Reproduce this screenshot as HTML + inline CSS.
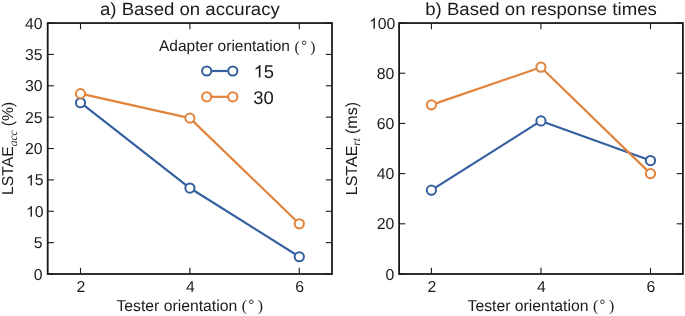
<!DOCTYPE html>
<html><head><meta charset="utf-8"><style>
html,body{margin:0;padding:0;background:#fff;width:685px;height:316px;overflow:hidden;font-family:"Liberation Sans",sans-serif;}
svg{display:block;will-change:transform} text{text-rendering:geometricPrecision}
</style></head><body><svg width="685" height="316" viewBox="0 0 685 316" font-family="Liberation Sans, sans-serif" style=""><g stroke="#1a1a1a" stroke-width="1.1"><line x1="80.50" y1="274.00" x2="80.50" y2="267.80"/><line x1="80.50" y1="23.05" x2="80.50" y2="29.25"/><line x1="189.90" y1="274.00" x2="189.90" y2="267.80"/><line x1="189.90" y1="23.05" x2="189.90" y2="29.25"/><line x1="299.30" y1="274.00" x2="299.30" y2="267.80"/><line x1="299.30" y1="23.05" x2="299.30" y2="29.25"/><line x1="47.70" y1="274.00" x2="53.90" y2="274.00"/><line x1="332.00" y1="274.00" x2="325.80" y2="274.00"/><line x1="47.70" y1="242.63" x2="53.90" y2="242.63"/><line x1="332.00" y1="242.63" x2="325.80" y2="242.63"/><line x1="47.70" y1="211.26" x2="53.90" y2="211.26"/><line x1="332.00" y1="211.26" x2="325.80" y2="211.26"/><line x1="47.70" y1="179.89" x2="53.90" y2="179.89"/><line x1="332.00" y1="179.89" x2="325.80" y2="179.89"/><line x1="47.70" y1="148.53" x2="53.90" y2="148.53"/><line x1="332.00" y1="148.53" x2="325.80" y2="148.53"/><line x1="47.70" y1="117.16" x2="53.90" y2="117.16"/><line x1="332.00" y1="117.16" x2="325.80" y2="117.16"/><line x1="47.70" y1="85.79" x2="53.90" y2="85.79"/><line x1="332.00" y1="85.79" x2="325.80" y2="85.79"/><line x1="47.70" y1="54.42" x2="53.90" y2="54.42"/><line x1="332.00" y1="54.42" x2="325.80" y2="54.42"/><line x1="47.70" y1="23.05" x2="53.90" y2="23.05"/><line x1="332.00" y1="23.05" x2="325.80" y2="23.05"/></g><rect x="47.70" y="23.05" width="284.30" height="250.95" fill="none" stroke="#1a1a1a" stroke-width="1.8"/><g font-size="15.8" fill="#1a1a1a"><text x="33.71" y="279.60" font-size="15.8" fill="#1a1a1a">0</text><text x="33.71" y="248.23" font-size="15.8" fill="#1a1a1a">5</text><text x="26.03" y="216.86" font-size="15.8" fill="#1a1a1a"> 0</text><path transform="translate(26.03,216.86) scale(0.00771,-0.00771)" d="M763,0 L583,0 L583,1098 Q518,1038 412,979 Q306,920 222,890 L222,1057 Q373,1125 486,1221 Q599,1318 646,1409 L763,1409 Z" fill="#1a1a1a"/><text x="26.03" y="185.49" font-size="15.8" fill="#1a1a1a"> 5</text><path transform="translate(26.03,185.49) scale(0.00771,-0.00771)" d="M763,0 L583,0 L583,1098 Q518,1038 412,979 Q306,920 222,890 L222,1057 Q373,1125 486,1221 Q599,1318 646,1409 L763,1409 Z" fill="#1a1a1a"/><text x="24.93" y="154.12" font-size="15.8" fill="#1a1a1a">20</text><text x="24.93" y="122.76" font-size="15.8" fill="#1a1a1a">25</text><text x="24.93" y="91.39" font-size="15.8" fill="#1a1a1a">30</text><text x="24.93" y="60.02" font-size="15.8" fill="#1a1a1a">35</text><text x="24.93" y="28.65" font-size="15.8" fill="#1a1a1a">40</text><text x="76.51" y="291.60" font-size="15.8" fill="#1a1a1a">2</text><text x="185.91" y="291.60" font-size="15.8" fill="#1a1a1a">4</text><text x="295.31" y="291.60" font-size="15.8" fill="#1a1a1a">6</text></g><text transform="translate(189.85,15.3) scale(1,0.95)" text-anchor="middle" font-size="18.6" fill="#1a1a1a">a) Based on accuracy</text><text x="116.45" y="310.7" font-size="15.75" fill="#1a1a1a">Tester orientation</text><text x="241.75" y="310.7" font-size="15.75" font-family="Liberation Serif" fill="#1a1a1a">(</text><text x="257.75" y="310.7" font-size="15.75" font-family="Liberation Serif" fill="#1a1a1a">)</text><circle cx="251.25" cy="301.80" r="1.8" fill="none" stroke="#1a1a1a" stroke-width="0.85"/><g stroke="#1a1a1a" stroke-width="1.1"><line x1="431.40" y1="274.00" x2="431.40" y2="267.80"/><line x1="431.40" y1="23.05" x2="431.40" y2="29.25"/><line x1="540.95" y1="274.00" x2="540.95" y2="267.80"/><line x1="540.95" y1="23.05" x2="540.95" y2="29.25"/><line x1="650.50" y1="274.00" x2="650.50" y2="267.80"/><line x1="650.50" y1="23.05" x2="650.50" y2="29.25"/><line x1="399.10" y1="274.00" x2="405.30" y2="274.00"/><line x1="682.90" y1="274.00" x2="676.70" y2="274.00"/><line x1="399.10" y1="223.81" x2="405.30" y2="223.81"/><line x1="682.90" y1="223.81" x2="676.70" y2="223.81"/><line x1="399.10" y1="173.62" x2="405.30" y2="173.62"/><line x1="682.90" y1="173.62" x2="676.70" y2="173.62"/><line x1="399.10" y1="123.43" x2="405.30" y2="123.43"/><line x1="682.90" y1="123.43" x2="676.70" y2="123.43"/><line x1="399.10" y1="73.24" x2="405.30" y2="73.24"/><line x1="682.90" y1="73.24" x2="676.70" y2="73.24"/><line x1="399.10" y1="23.05" x2="405.30" y2="23.05"/><line x1="682.90" y1="23.05" x2="676.70" y2="23.05"/></g><rect x="399.10" y="23.05" width="283.80" height="250.95" fill="none" stroke="#1a1a1a" stroke-width="1.8"/><g font-size="15.8" fill="#1a1a1a"><text x="385.51" y="279.60" font-size="15.8" fill="#1a1a1a">0</text><text x="376.73" y="229.41" font-size="15.8" fill="#1a1a1a">20</text><text x="376.73" y="179.22" font-size="15.8" fill="#1a1a1a">40</text><text x="376.73" y="129.03" font-size="15.8" fill="#1a1a1a">60</text><text x="376.73" y="78.84" font-size="15.8" fill="#1a1a1a">80</text><text x="369.04" y="28.65" font-size="15.8" fill="#1a1a1a"> 00</text><path transform="translate(369.04,28.65) scale(0.00771,-0.00771)" d="M763,0 L583,0 L583,1098 Q518,1038 412,979 Q306,920 222,890 L222,1057 Q373,1125 486,1221 Q599,1318 646,1409 L763,1409 Z" fill="#1a1a1a"/><text x="427.41" y="291.60" font-size="15.8" fill="#1a1a1a">2</text><text x="536.96" y="291.60" font-size="15.8" fill="#1a1a1a">4</text><text x="646.51" y="291.60" font-size="15.8" fill="#1a1a1a">6</text></g><text transform="translate(541.00,15.3) scale(1,0.95)" text-anchor="middle" font-size="18.6" fill="#1a1a1a">b) Based on response times</text><text x="467.60" y="310.7" font-size="15.75" fill="#1a1a1a">Tester orientation</text><text x="592.90" y="310.7" font-size="15.75" font-family="Liberation Serif" fill="#1a1a1a">(</text><text x="608.90" y="310.7" font-size="15.75" font-family="Liberation Serif" fill="#1a1a1a">)</text><circle cx="602.40" cy="301.80" r="1.8" fill="none" stroke="#1a1a1a" stroke-width="0.85"/><path d="M80.50,102.73 L189.90,188.05 L299.30,256.75" fill="none" stroke="#3560a0" stroke-width="2.2" stroke-linejoin="round"/><circle cx="80.50" cy="102.73" r="4.6" fill="#fff" stroke="#3560a0" stroke-width="2.0"/><circle cx="189.90" cy="188.05" r="4.6" fill="#fff" stroke="#3560a0" stroke-width="2.0"/><circle cx="299.30" cy="256.75" r="4.6" fill="#fff" stroke="#3560a0" stroke-width="2.0"/><path d="M80.50,93.63 L189.90,118.10 L299.30,223.81" fill="none" stroke="#e2833b" stroke-width="2.2" stroke-linejoin="round"/><circle cx="80.50" cy="93.63" r="4.6" fill="#fff" stroke="#e2833b" stroke-width="2.0"/><circle cx="189.90" cy="118.10" r="4.6" fill="#fff" stroke="#e2833b" stroke-width="2.0"/><circle cx="299.30" cy="223.81" r="4.6" fill="#fff" stroke="#e2833b" stroke-width="2.0"/><path d="M431.40,190.18 L540.95,120.92 L650.50,160.57" fill="none" stroke="#3560a0" stroke-width="2.2" stroke-linejoin="round"/><circle cx="431.40" cy="190.18" r="4.6" fill="#fff" stroke="#3560a0" stroke-width="2.0"/><circle cx="540.95" cy="120.92" r="4.6" fill="#fff" stroke="#3560a0" stroke-width="2.0"/><circle cx="650.50" cy="160.57" r="4.6" fill="#fff" stroke="#3560a0" stroke-width="2.0"/><path d="M431.40,104.86 L540.95,67.22 L650.50,173.62" fill="none" stroke="#e2833b" stroke-width="2.2" stroke-linejoin="round"/><circle cx="431.40" cy="104.86" r="4.6" fill="#fff" stroke="#e2833b" stroke-width="2.0"/><circle cx="540.95" cy="67.22" r="4.6" fill="#fff" stroke="#e2833b" stroke-width="2.0"/><circle cx="650.50" cy="173.62" r="4.6" fill="#fff" stroke="#e2833b" stroke-width="2.0"/><g transform="translate(12.8,195.0) rotate(-90)" fill="#1a1a1a"><text x="0" y="0" font-size="15.75">LSTAE<tspan font-family="Liberation Serif" font-style="italic" font-size="11.5" dy="4.0">acc</tspan><tspan dy="-4.0" dx="4.0">(%)</tspan></text></g><g transform="translate(357.3,195.2) rotate(-90)" fill="#1a1a1a"><text x="0" y="0" font-size="16.0">LSTAE<tspan font-family="Liberation Serif" font-style="italic" font-size="11.5" dy="3.0">rt</tspan><tspan dy="-3.0" dx="4.0">(ms)</tspan></text></g><text x="159" y="50.8" font-size="15.5" fill="#1a1a1a">Adapter orientation</text><text x="294.4" y="51.8" font-size="15.5" font-family="Liberation Serif" fill="#1a1a1a">(</text><text x="310.3" y="51.8" font-size="15.5" font-family="Liberation Serif" fill="#1a1a1a">)</text><circle cx="304.10" cy="42.80" r="1.8" fill="none" stroke="#1a1a1a" stroke-width="0.85"/><line x1="206.7" y1="71.0" x2="232.8" y2="71.0" stroke="#3560a0" stroke-width="2.2"/><circle cx="206.7" cy="71.0" r="4.6" fill="#fff" stroke="#3560a0" stroke-width="2.0"/><circle cx="232.8" cy="71.0" r="4.6" fill="#fff" stroke="#3560a0" stroke-width="2.0"/><line x1="206.7" y1="96.8" x2="232.8" y2="96.8" stroke="#e2833b" stroke-width="2.2"/><circle cx="206.7" cy="96.8" r="4.6" fill="#fff" stroke="#e2833b" stroke-width="2.0"/><circle cx="232.8" cy="96.8" r="4.6" fill="#fff" stroke="#e2833b" stroke-width="2.0"/><text x="253.60" y="77.60" font-size="18.4" fill="#1a1a1a"> 5</text><path transform="translate(253.60,77.60) scale(0.00898,-0.00898)" d="M763,0 L583,0 L583,1098 Q518,1038 412,979 Q306,920 222,890 L222,1057 Q373,1125 486,1221 Q599,1318 646,1409 L763,1409 Z" fill="#1a1a1a"/><text x="253.3" y="103.5" font-size="18.4" fill="#1a1a1a">30</text></svg></body></html>
